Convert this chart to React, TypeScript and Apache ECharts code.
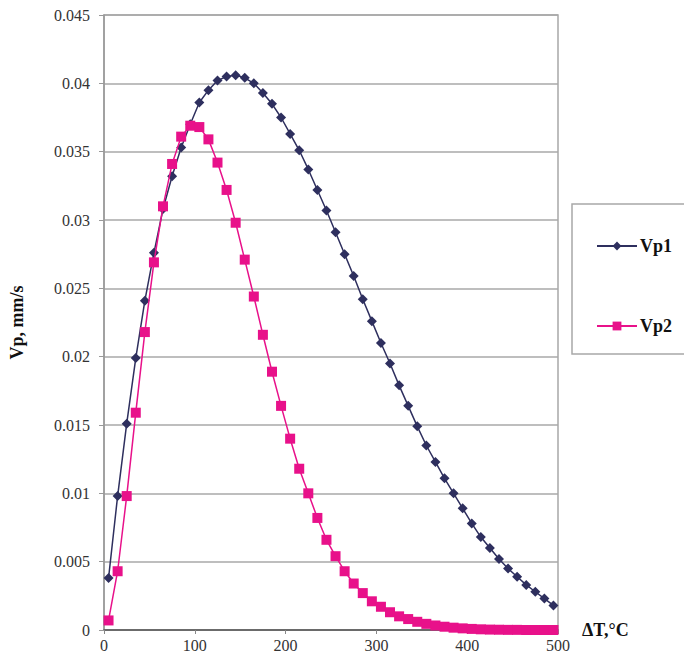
import React, { useEffect, useRef } from "react";
import * as echarts from "echarts";

const deltaT = [
  5, 15, 25, 35, 45, 55, 65, 75, 85, 95,
  105, 115, 125, 135, 145, 155, 165, 175, 185, 195,
  205, 215, 225, 235, 245, 255, 265, 275, 285, 295,
  305, 315, 325, 335, 345, 355, 365, 375, 385, 395,
  405, 415, 425, 435, 445, 455, 465, 475, 485, 495,
];

const vp1 = [
  0.0038, 0.0098, 0.0151, 0.0199, 0.0241, 0.0276, 0.0308, 0.0332, 0.0353, 0.0370,
  0.0386, 0.0395, 0.0402, 0.0405, 0.0406, 0.0404, 0.0400, 0.0393, 0.0385, 0.0375,
  0.0363, 0.0351, 0.0337, 0.0322, 0.0307, 0.0291, 0.0275, 0.0259, 0.0242, 0.0226,
  0.0210, 0.0195, 0.0179, 0.0164, 0.0149, 0.0135, 0.0123, 0.0111, 0.0100, 0.0089,
  0.0078, 0.0068, 0.0060, 0.0052, 0.0045, 0.0039, 0.0033, 0.0028, 0.0023, 0.0018,
];

const vp2 = [
  0.0007, 0.0043, 0.0098, 0.0159, 0.0218, 0.0269, 0.0310, 0.0341, 0.0361, 0.0369,
  0.0368, 0.0359, 0.0342, 0.0322, 0.0298, 0.0271, 0.0244, 0.0216, 0.0189, 0.0164,
  0.0140, 0.0118, 0.0100, 0.0082, 0.0066, 0.0054, 0.0043, 0.0034, 0.0027, 0.0021,
  0.0017, 0.0013, 0.0010, 0.0008, 0.0006, 0.00045, 0.00033, 0.00024, 0.00017, 0.00012,
  0.00008, 0.00005, 0.00003, 0.00002, 0.00001, 0.00001, 0, 0, 0, 0,
];

const seriesNames = ["Vp1", "Vp2"];
const xAxisName = "ΔT,°C";
const yAxisName = "Vp, mm/s";

const FONT = "'Liberation Serif', 'Times New Roman', serif";

export default function App() {
  const ref = useRef<HTMLDivElement>(null);

  useEffect(() => {
    document.body.style.margin = "0";
    if (!ref.current) return;
    const chart = echarts.init(ref.current, null, { renderer: "svg" });
    const d1 = deltaT.map((x, i) => [x, vp1[i]]);
    const d2 = deltaT.map((x, i) => [x, vp2[i]]);
    chart.setOption({
      animation: false,
      backgroundColor: "#ffffff",
      textStyle: { fontFamily: FONT },
      grid: {
        left: 103,
        right: 126,
        top: 15,
        bottom: 32,
        show: true,
        borderColor: "#a8a8a8",
        borderWidth: 1.5,
      },
      graphic: [
        {
          type: "rect",
          shape: { x: 572, y: 204, width: 130, height: 150 },
          style: { fill: "#ffffff", stroke: "#a8a8a8", lineWidth: 1.5 },
          z: 0,
        },
      ],
      legend: {
        orient: "vertical",
        left: 591,
        top: 232,
        itemGap: 62,
        itemWidth: 40,
        itemHeight: 11,
        data: seriesNames,
        textStyle: {
          fontFamily: FONT,
          fontWeight: "bold",
          fontSize: 18,
          color: "#111",
          padding: [0, 0, 0, -2],
        },
        z: 5,
      },
      xAxis: {
        type: "value",
        min: 0,
        max: 500,
        interval: 100,
        name: xAxisName,
        nameLocation: "end",
        nameGap: 24,
        nameTextStyle: {
          fontFamily: FONT,
          fontWeight: "bold",
          fontSize: 18,
          color: "#111",
          verticalAlign: "middle",
          align: "left",
          padding: [8, 0, 0, 0],
        },
        axisLine: { show: true, lineStyle: { color: "#555", width: 1.5 } },
        axisTick: { show: true, length: 4, inside: false, lineStyle: { color: "#888" } },
        axisLabel: { fontFamily: FONT, fontSize: 16, color: "#333", margin: 7 },
        splitLine: { show: false },
      },
      yAxis: {
        type: "value",
        min: 0,
        max: 0.045,
        interval: 0.005,
        name: yAxisName,
        nameLocation: "middle",
        nameGap: 78,
        nameRotate: 90,
        nameTextStyle: {
          fontFamily: FONT,
          fontWeight: "bold",
          fontSize: 18,
          color: "#111",
        },
        axisLine: { show: true, lineStyle: { color: "#999", width: 1.5 } },
        axisTick: { show: true, length: 5, lineStyle: { color: "#999" } },
        axisLabel: { fontFamily: FONT, fontSize: 16, color: "#333", margin: 14 },
        splitLine: { show: true, lineStyle: { color: "#a8a8a8", width: 1.5 } },
      },
      series: [
        {
          name: seriesNames[0],
          type: "line",
          data: d1,
          symbol: "diamond",
          symbolSize: 10,
          color: "#2e2f5e",
          lineStyle: { color: "#2e2f5e", width: 1.5 },
          itemStyle: { color: "#2e2f5e" },
          z: 3,
        },
        {
          name: seriesNames[1],
          type: "line",
          data: d2,
          symbol: "rect",
          symbolSize: 10,
          color: "#e8118a",
          lineStyle: { color: "#e8118a", width: 1.5 },
          itemStyle: { color: "#e8118a" },
          z: 4,
        },
      ],
    });
    return () => chart.dispose();
  }, []);

  return <div ref={ref} style={{ width: 684, height: 662 }} />;
}
